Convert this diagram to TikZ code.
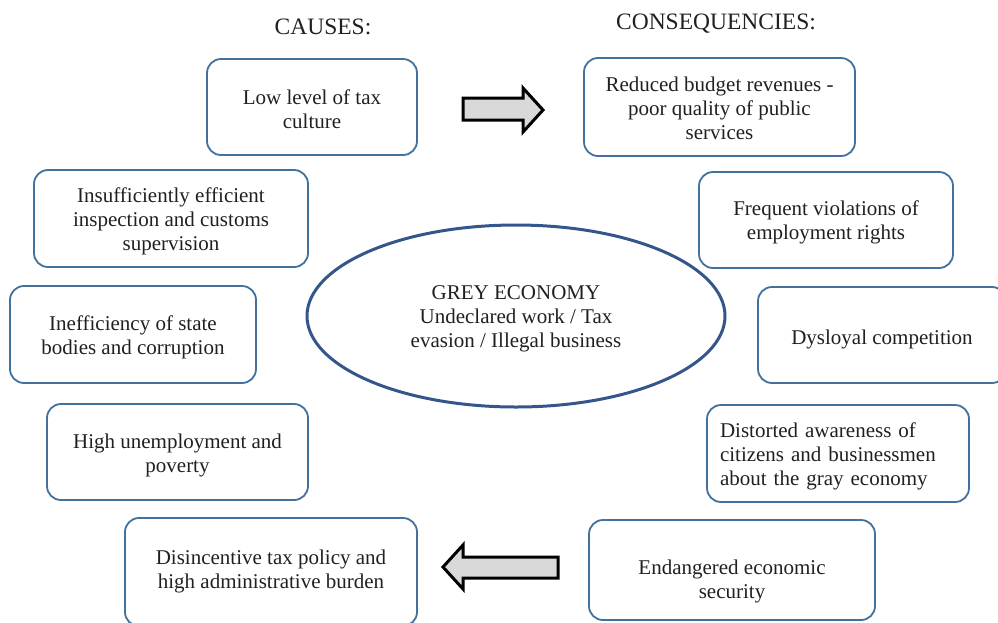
\documentclass[tikz,border=0pt]{standalone}
\usepackage{fontspec}
\setmainfont{Liberation Serif}
\usetikzlibrary{shapes.geometric}
\definecolor{boxblue}{RGB}{65,113,156}
\definecolor{ellblue}{RGB}{52,86,138}
\definecolor{txt}{RGB}{35,31,32}
\definecolor{arrfill}{RGB}{217,217,217}
\begin{document}
\begin{tikzpicture}[x=1pt,y=-1pt,
  box/.style={draw=boxblue,line width=1.8pt,rounded corners=14pt,inner sep=0pt},
  btext/.style={inner sep=0pt,align=center,text=txt,font=\fontsize{21}{24}\selectfont},
  title/.style={anchor=base,text=txt,font=\fontsize{23.5}{27}\selectfont,inner sep=0pt},
  bigarrow/.style={draw=black,line width=3pt,fill=arrfill,line join=miter}]
\useasboundingbox (0,0) rectangle (998,622);
\clip (0,0) rectangle (998,622);
% titles
\node[title] (causes) at (323,34) {CAUSES:};
\node[title] (conseq) at (716,29) {CONSEQUENCIES:};
% causes
\node[box,minimum width=210,minimum height=96] (low) at (312,107) {};
\node[btext] (lowt) at ([yshift=-2pt]low.center) {Low level of tax\\culture};
\node[box,minimum width=274,minimum height=97] (insp) at (171,218.5) {};
\node[btext] (inspt) at ([yshift=-3pt]insp.center) {Insufficiently efficient\\inspection and customs\\supervision};
\node[box,minimum width=246,minimum height=97] (ineff) at (133,334.5) {};
\node[btext] (innefft) at ([yshift=-3pt]ineff.center) {Inefficiency of state\\bodies and corruption};
\node[box,minimum width=261,minimum height=96] (unemp) at (177.5,452) {};
\node[btext] (unempt) at ([yshift=-3pt]unemp.center) {High unemployment and\\poverty};
\node[box,minimum width=292,minimum height=108] (disinc) at (271,572) {};
\node[btext] (disinct) at ([yshift=1pt]disinc.center) {Disincentive tax policy and\\high administrative burden};
% consequences
\node[box,minimum width=271,minimum height=98] (reduced) at (719.5,107) {};
\node[btext] (reducedt) at ([yshift=-1.5pt]reduced.center) {Reduced budget revenues -\\poor quality of public\\services};
\node[box,minimum width=254,minimum height=96] (freq) at (826,220) {};
\node[btext] (freqt) at ([yshift=-2.5pt]freq.center) {Frequent violations of\\employment rights};
\node[box,minimum width=248,minimum height=96] (dysl) at (882,335) {};
\node[btext] (dyslt) at ([yshift=-4pt]dysl.center) {Dysloyal competition};
\node[box,minimum width=262,minimum height=97] (dist) at (838,453.5) {};
\node[btext,align=left,text width=236] (distt) at ([yshift=-3pt]dist.center) {Distorted awareness of\\citizens and businessmen\\about the gray economy};
\node[box,minimum width=286,minimum height=100] (endang) at (732,570) {};
\node[btext] (endangt) at ([yshift=-11pt]endang.center) {Endangered economic\\security};
% centre
\node[ellipse,draw=ellblue,line width=3pt,minimum width=418,minimum height=182,inner sep=0pt] (grey) at (516,316) {};
\node[btext] (greyt) at ([yshift=-2.5pt]grey.center) {GREY ECONOMY\\Undeclared work / Tax\\evasion / Illegal business};
% block arrows
\draw[bigarrow] (463,98) -- (523,98) -- (523,88) -- (543,110) -- (523,132) -- (523,120) -- (463,120) -- cycle;
\draw[bigarrow] (558,557) -- (463,557) -- (463,545) -- (443,567) -- (463,589) -- (463,578) -- (558,578) -- cycle;
\end{tikzpicture}
\end{document}
